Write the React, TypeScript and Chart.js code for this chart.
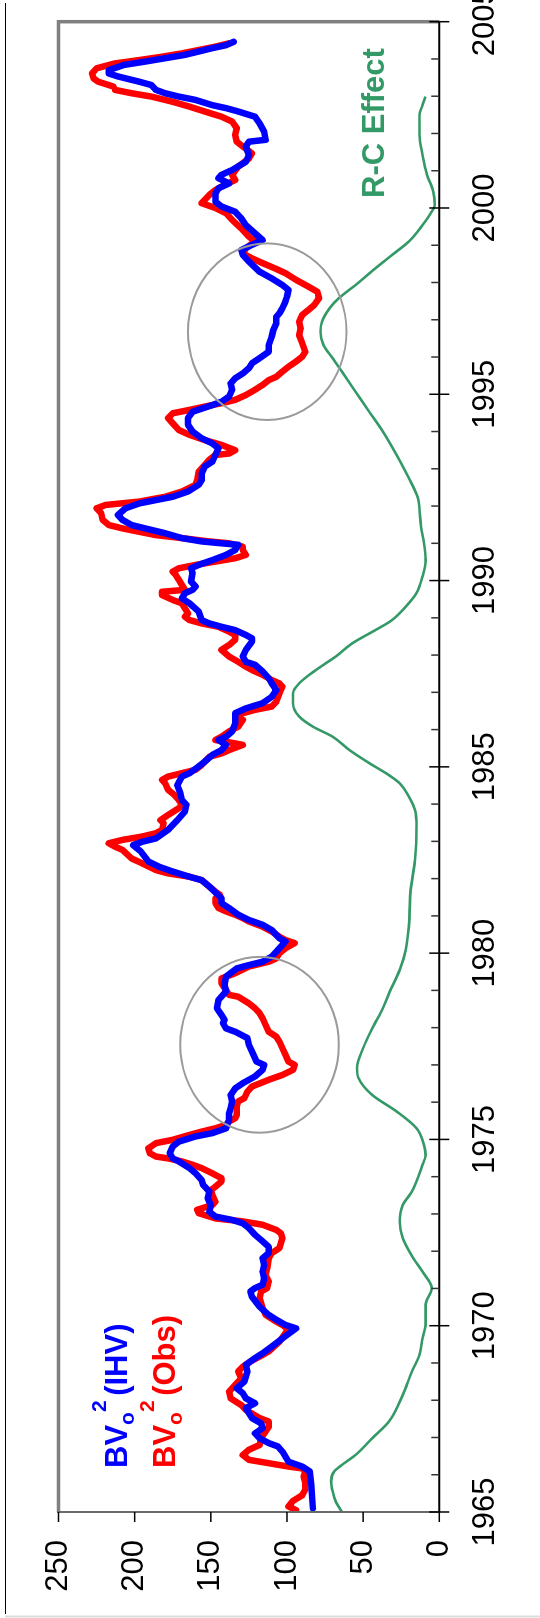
import React, { useEffect, useRef } from 'react';
import { Chart, registerables } from 'chart.js';

Chart.register(...registerables);

const FONT = '"Liberation Sans", Arial, Helvetica, sans-serif';
// The chart is laid out landscape and turned a quarter turn on the page.
const W = 1618;
const H = 540;

const yearMin = 1965;
const yearMax = 2005;
const valueMin = 0;
const valueMax = 250;

// BVo^2 derived from IHV
const ihvYears = [
  1965.1, 1965.73, 1966.09, 1966.22, 1966.35, 1966.62, 1966.76, 1966.85, 1966.98, 1967.11,
  1967.25, 1967.38, 1967.52, 1967.79, 1967.92, 1968.05, 1968.19, 1968.32, 1968.5, 1968.77,
  1968.95, 1969.13, 1969.26, 1969.44, 1969.66, 1969.93, 1970.02, 1970.16, 1970.29, 1970.51,
  1970.78, 1970.92, 1971.01, 1971.1, 1971.27, 1971.45, 1971.63, 1971.81, 1971.95, 1972.12,
  1972.3, 1972.44, 1972.62, 1972.75, 1972.84, 1972.93, 1973.06, 1973.24, 1973.42, 1973.6,
  1973.78, 1973.91, 1974.09, 1974.23, 1974.41, 1974.49, 1974.63, 1974.81, 1974.94, 1975.08,
  1975.17, 1975.3, 1975.43, 1975.52, 1975.7, 1975.84, 1976.02, 1976.19, 1976.37, 1976.51,
  1976.69, 1976.87, 1977.0, 1977.09, 1977.27, 1977.54, 1977.72, 1977.89, 1977.98, 1978.12,
  1978.21, 1978.34, 1978.52, 1978.74, 1978.97, 1979.15, 1979.37, 1979.59, 1979.68, 1979.77,
  1979.91, 1980.04, 1980.31, 1980.4, 1980.62, 1980.76, 1980.89, 1981.03, 1981.21, 1981.34,
  1981.47, 1981.79, 1981.96, 1982.05, 1982.19, 1982.32, 1982.46, 1982.73, 1982.9, 1982.99,
  1983.08, 1983.31, 1983.57, 1983.8, 1983.98, 1984.11, 1984.29, 1984.51, 1984.74, 1984.83,
  1985.01, 1985.14, 1985.32, 1985.45, 1985.59, 1985.72, 1985.81, 1985.95, 1986.17, 1986.44,
  1986.57, 1986.71, 1986.88, 1987.06, 1987.24, 1987.38, 1987.56, 1987.74, 1987.82, 1987.96,
  1988.14, 1988.36, 1988.45, 1988.54, 1988.67, 1988.76, 1988.85, 1988.94, 1989.17, 1989.39,
  1989.52, 1989.66, 1989.75, 1989.84, 1989.97, 1990.2, 1990.33, 1990.42, 1990.55, 1990.69,
  1990.82, 1990.96, 1991.0, 1991.05, 1991.14, 1991.27, 1991.4, 1991.49, 1991.63, 1991.76,
  1991.94, 1992.07, 1992.16, 1992.25, 1992.39, 1992.57, 1992.7, 1992.88, 1993.06, 1993.19,
  1993.37, 1993.55, 1993.68, 1993.82, 1994.0, 1994.18, 1994.36, 1994.53, 1994.71, 1994.8,
  1994.94, 1995.12, 1995.29, 1995.43, 1995.56, 1995.7, 1995.83, 1995.97, 1996.14, 1996.32,
  1996.55, 1996.72, 1996.9, 1997.08, 1997.17, 1997.31, 1997.49, 1997.62, 1997.8, 1997.93,
  1998.11, 1998.29, 1998.56, 1998.74, 1998.87, 1999.01, 1999.14, 1999.32, 1999.54, 1999.72,
  1999.9, 2000.04, 2000.17, 2000.39, 2000.53, 2000.66, 2000.8, 2000.89, 2001.02, 2001.24,
  2001.42, 2001.65, 2001.78, 2001.83, 2002.05, 2002.27, 2002.45, 2002.59, 2002.68, 2002.76,
  2002.9, 2002.99, 2003.08, 2003.17, 2003.3, 2003.39, 2003.44, 2003.53, 2003.61, 2003.7,
  2003.84, 2003.93, 2004.02, 2004.11, 2004.2, 2004.29, 2004.37, 2004.46,
];
const ihvValues = [
  83, 84, 85, 90, 99, 103, 106, 112, 118, 121,
  116, 117, 123, 127, 121, 127, 129, 133, 128, 126,
  127, 121, 116, 110, 103, 94, 101, 107, 112, 118,
  123, 124, 121, 116, 115, 116, 115, 116, 112, 112,
  117, 121, 125, 129, 136, 147, 151, 150, 152, 151,
  155, 156, 160, 164, 171, 175, 177, 175, 171, 160,
  149, 140, 139, 138, 138, 137, 136, 137, 134, 129,
  121, 116, 115, 120, 122, 125, 126, 134, 140, 142,
  141, 143, 146, 145, 140, 141, 140, 133, 125, 116,
  110, 107, 101, 105, 110, 116, 125, 132, 138, 143,
  143, 151, 156, 164, 175, 184, 191, 196, 201, 195,
  186, 178, 172, 167, 166, 169, 170, 172, 169, 164,
  158, 154, 149, 143, 140, 145, 140, 136, 134, 134,
  127, 116, 110, 107, 110, 112, 116, 121, 127, 129,
  127, 123, 123, 127, 134, 143, 151, 156, 158, 164,
  169, 167, 162, 160, 163, 162, 163, 158, 149, 140,
  134, 132, 143, 156, 169, 180, 193, 202, 208, 211,
  206, 197, 186, 175, 165, 158, 156, 156, 154, 149,
  147, 145, 149, 156, 162, 165, 165, 162, 149, 143,
  138, 136, 137, 134, 129, 125, 123, 118, 112, 112,
  110, 109, 107, 107, 105, 103, 101, 100, 99, 103,
  110, 118, 125, 129, 130, 123, 116, 121, 127, 130,
  134, 143, 147, 147, 145, 138, 145, 143, 136, 127,
  125, 127, 125, 114, 115, 118, 121, 132, 140, 149,
  160, 171, 180, 186, 189, 197, 202, 211, 217, 217,
  207, 193, 180, 167, 158, 149, 140, 135,
];

// BVo^2 from observations
const obsYears = [
  1965.05, 1965.15, 1965.3, 1965.45, 1965.6, 1965.8, 1965.95, 1966.09, 1966.17, 1966.22,
  1966.31, 1966.4, 1966.53, 1966.67, 1966.8, 1966.98, 1967.29, 1967.43, 1967.52, 1967.74,
  1967.87, 1968.05, 1968.23, 1968.41, 1968.59, 1968.77, 1968.9, 1969.04, 1969.17, 1969.31,
  1969.57, 1969.8, 1969.89, 1970.02, 1970.11, 1970.29, 1970.47, 1970.74, 1970.92, 1971.01,
  1971.18, 1971.36, 1971.54, 1971.81, 1971.95, 1972.08, 1972.35, 1972.48, 1972.57, 1972.71,
  1972.8, 1972.88, 1973.02, 1973.11, 1973.15, 1973.24, 1973.33, 1973.51, 1973.64, 1973.73,
  1973.87, 1973.96, 1974.09, 1974.23, 1974.32, 1974.41, 1974.49, 1974.54, 1974.63, 1974.76,
  1974.9, 1974.99, 1975.12, 1975.21, 1975.3, 1975.39, 1975.48, 1975.57, 1975.66, 1975.88,
  1976.02, 1976.11, 1976.28, 1976.42, 1976.6, 1976.73, 1976.87, 1977.0, 1977.09, 1977.27,
  1977.45, 1977.63, 1977.76, 1977.89, 1978.07, 1978.25, 1978.39, 1978.52, 1978.65, 1978.83,
  1978.88, 1979.01, 1979.19, 1979.32, 1979.46, 1979.64, 1979.77, 1979.86, 1980.0, 1980.13,
  1980.27, 1980.35, 1980.44, 1980.58, 1980.71, 1980.85, 1980.94, 1981.03, 1981.12, 1981.21,
  1981.34, 1981.47, 1981.56, 1981.65, 1981.96, 1982.05, 1982.14, 1982.23, 1982.41, 1982.54,
  1982.77, 1982.86, 1982.95, 1983.04, 1983.13, 1983.22, 1983.31, 1983.49, 1983.57, 1983.71,
  1983.89, 1983.98, 1984.11, 1984.25, 1984.38, 1984.56, 1984.65, 1984.74, 1984.83, 1984.92,
  1985.05, 1985.27, 1985.36, 1985.45, 1985.59, 1985.63, 1985.72, 1985.81, 1985.95, 1986.08,
  1986.26, 1986.35, 1986.44, 1986.53, 1986.62, 1986.75, 1986.97, 1987.15, 1987.24, 1987.33,
  1987.47, 1987.6, 1987.69, 1987.82, 1987.96, 1988.14, 1988.27, 1988.41, 1988.54, 1988.63,
  1988.76, 1988.85, 1988.94, 1989.03, 1989.12, 1989.39, 1989.48, 1989.61, 1989.7, 1989.75,
  1989.88, 1990.02, 1990.15, 1990.24, 1990.33, 1990.42, 1990.51, 1990.6, 1990.69, 1990.82,
  1990.91, 1991.0, 1991.05, 1991.14, 1991.22, 1991.31, 1991.4, 1991.49, 1991.63, 1991.81,
  1991.94, 1992.03, 1992.12, 1992.25, 1992.39, 1992.57, 1992.7, 1992.92, 1993.1, 1993.24,
  1993.37, 1993.41, 1993.5, 1993.64, 1993.77, 1993.91, 1994.04, 1994.22, 1994.36, 1994.49,
  1994.58, 1994.67, 1994.76, 1994.85, 1994.98, 1995.12, 1995.25, 1995.38, 1995.47, 1995.61,
  1995.74, 1995.88, 1996.01, 1996.14, 1996.37, 1996.59, 1996.77, 1996.95, 1997.13, 1997.26,
  1997.4, 1997.58, 1997.75, 1997.89, 1998.07, 1998.25, 1998.38, 1998.52, 1998.65, 1998.78,
  1998.92, 1999.1, 1999.23, 1999.45, 1999.68, 1999.86, 2000.0, 2000.13, 2000.35, 2000.48,
  2000.62, 2000.75, 2000.89, 2001.11, 2001.33, 2001.47, 2001.65, 2001.78, 2001.96, 2002.14,
  2002.32, 2002.45, 2002.59, 2002.72, 2002.85, 2002.99, 2003.08, 2003.17, 2003.26, 2003.3,
  2003.39, 2003.48, 2003.61, 2003.75, 2003.88, 2003.97, 2004.06, 2004.15, 2004.24, 2004.33,
  2004.42,
];
const obsValues = [
  94, 99, 96, 90, 88, 88, 89, 88, 90, 99,
  112, 125, 129, 125, 118, 117, 112, 112, 118, 127,
  130, 137, 138, 134, 130, 132, 129, 124, 118, 112,
  105, 101, 99, 103, 107, 114, 116, 118, 117, 113,
  112, 114, 113, 112, 110, 105, 103, 104, 107, 116,
  129, 147, 158, 159, 156, 149, 147, 149, 150, 147,
  143, 143, 149, 156, 162, 169, 178, 186, 190, 191,
  186, 175, 164, 156, 147, 140, 138, 134, 133, 133,
  132, 128, 126, 123, 112, 103, 96, 95, 99, 101,
  103, 105, 107, 112, 114, 116, 118, 121, 125, 132,
  138, 140, 143, 143, 134, 125, 112, 107, 105, 101,
  95, 101, 105, 110, 116, 125, 129, 134, 140, 145,
  147, 147, 144, 147, 156, 164, 178, 186, 195, 202,
  208, 213, 217, 208, 195, 186, 182, 181, 183, 178,
  171, 169, 171, 174, 178, 180, 182, 178, 169, 160,
  156, 151, 143, 138, 129, 134, 147, 143, 138, 132,
  129, 133, 129, 121, 110, 107, 105, 103, 105, 110,
  116, 123, 127, 132, 138, 143, 138, 134, 134, 138,
  145, 156, 164, 167, 165, 169, 175, 182, 182, 167,
  169, 171, 173, 175, 171, 160, 147, 134, 127, 129,
  129, 138, 151, 169, 186, 197, 208, 217, 221, 222,
  225, 219, 197, 180, 169, 160, 159, 158, 154, 151,
  147, 138, 134, 143, 154, 164, 171, 175, 178, 175,
  164, 154, 143, 134, 127, 121, 116, 112, 107, 103,
  99, 94, 90, 88, 90, 92, 91, 92, 90, 86,
  82, 79, 80, 86, 94, 101, 108, 116, 123, 129,
  127, 121, 125, 130, 136, 140, 147, 156, 151, 147,
  141, 134, 136, 132, 125, 123, 129, 133, 134, 133,
  136, 143, 154, 164, 175, 189, 202, 213, 214, 217,
  224, 227, 228, 225, 213, 197, 182, 169, 158, 147,
  138,
];

// R-C effect curve
const rcYears = [
  1965.01, 1965.28, 1965.55, 1965.82, 1966.09, 1966.26, 1966.53, 1966.98, 1967.43, 1968.14,
  1968.77, 1969.22, 1969.66, 1970.02, 1970.56, 1971.01, 1971.45, 1971.81, 1972.35, 1972.8,
  1973.24, 1973.6, 1974.32, 1974.58, 1974.85, 1975.3, 1975.75, 1976.19, 1976.64, 1976.91,
  1977.45, 1977.98, 1978.52, 1978.92, 1979.55, 1980.09, 1980.71, 1981.61, 1982.5, 1983.4,
  1983.84, 1984.2, 1984.56, 1984.83, 1985.1, 1985.45, 1985.81, 1986.08, 1986.35, 1986.71,
  1986.97, 1987.24, 1987.6, 1987.96, 1988.32, 1988.67, 1988.94, 1989.3, 1989.66, 1990.11,
  1990.55, 1991.0, 1991.45, 1991.9, 1992.21, 1992.75, 1993.37, 1994.0, 1994.53, 1995.07,
  1995.61, 1995.97, 1996.32, 1996.68, 1996.95, 1997.31, 1997.58, 1997.93, 1998.38, 1998.74,
  1999.1, 1999.54, 1999.9, 2000.08, 2000.44, 2000.89, 2001.42, 2001.96, 2002.5, 2002.76,
  2002.99,
];
const rcValues = [
  64, 68, 70, 71, 69, 64, 55, 44, 33, 24,
  18, 13, 11, 9, 9, 5, 11, 17, 24, 26,
  24, 18, 11, 9, 10, 15, 28, 44, 53, 54,
  50, 44, 37, 33, 26, 22, 20, 19, 16, 15,
  16, 20, 26, 35, 46, 59, 70, 83, 92, 96,
  96, 92, 81, 68, 57, 42, 31, 22, 15, 11,
  9, 10, 12, 13, 14, 20, 28, 37, 46, 55,
  64, 70, 76, 78, 77, 72, 66, 55, 42, 31,
  20, 11, 5, 3, 4, 8, 11, 13, 13, 11,
  9,
];

// Highlighted intervals (centre and half-extent in data units)
const ringYears = [1996.68, 1977.54];
const ringValues = [113, 118];
const ringYearRadius = [2.37, 2.36];
const ringValueRadius = [52, 52];

const valueTicks = [0, 50, 100, 150, 200, 250];

const IHV_COLOR = '#0000ff';
const OBS_COLOR = '#ff0000';
const RC_COLOR = '#339966';

function toPoints(xs: number[], ys: number[]) {
  return xs.map((x, i) => ({ x, y: ys[i] }));
}

function drawBvLabel(ctx: CanvasRenderingContext2D, x: number, baseline: number, color: string, tail: string) {
  const big = `bold 31px ${FONT}`;
  const small = `bold 21px ${FONT}`;
  ctx.fillStyle = color;
  ctx.textAlign = 'left';
  ctx.textBaseline = 'alphabetic';
  ctx.font = big;
  ctx.fillText('BV', x, baseline);
  x += ctx.measureText('BV').width;
  ctx.font = small;
  ctx.fillText('o', x, baseline + 7);
  x += ctx.measureText('o').width;
  ctx.fillText('2', x, baseline - 21);
  x += ctx.measureText('2').width;
  ctx.font = big;
  ctx.fillText(' ' + tail, x - 4, baseline);
}

const framePlugin = {
  id: 'frameAndNotes',
  afterDatasetsDraw(chart: any) {
    const { ctx, scales } = chart;
    const xs = scales.x;
    const ys = scales.y;
    ctx.save();
    ctx.strokeStyle = '#9a9a9a';
    ctx.lineWidth = 2;
    for (let i = 0; i < ringYears.length; i++) {
      const cx = xs.getPixelForValue(ringYears[i]);
      const cy = ys.getPixelForValue(ringValues[i]);
      const rx = Math.abs(xs.getPixelForValue(ringYears[i] + ringYearRadius[i]) - cx);
      const ry = Math.abs(ys.getPixelForValue(ringValues[i] + ringValueRadius[i]) - cy);
      ctx.beginPath();
      ctx.ellipse(cx, cy, rx, ry, 0, 0, Math.PI * 2);
      ctx.stroke();
    }
    ctx.restore();
  },
  afterDraw(chart: any) {
    const { ctx, chartArea, scales } = chart;
    const { left, right, top, bottom } = chartArea;
    const xs = scales.x;
    const ys = scales.y;
    ctx.save();
    ctx.lineCap = 'butt';

    // outer page frame
    ctx.strokeStyle = '#000';
    ctx.lineWidth = 1.2;
    ctx.beginPath();
    ctx.moveTo(4, 5.5);
    ctx.lineTo(W - 3, 5.5);
    ctx.stroke();
    ctx.strokeStyle = '#dddddd';
    ctx.lineWidth = 2;
    ctx.beginPath();
    ctx.moveTo(1.5, 5);
    ctx.lineTo(1.5, H);
    ctx.stroke();

    // plot area border
    ctx.strokeStyle = '#808080';
    ctx.lineWidth = 3.5;
    ctx.beginPath();
    ctx.moveTo(left, top);
    ctx.lineTo(right, top);
    ctx.lineTo(right, bottom);
    ctx.stroke();

    // value axis
    ctx.strokeStyle = '#6a6a6a';
    ctx.lineWidth = 2;
    ctx.beginPath();
    ctx.moveTo(left, top - 1.5);
    ctx.lineTo(left, bottom);
    ctx.stroke();
    ctx.strokeStyle = '#000';
    ctx.lineWidth = 1.5;
    for (const v of valueTicks) {
      const py = ys.getPixelForValue(v);
      ctx.beginPath();
      ctx.moveTo(left - 10, py);
      ctx.lineTo(left, py);
      ctx.stroke();
    }

    // year axis
    ctx.strokeStyle = '#000';
    ctx.lineWidth = 2;
    ctx.beginPath();
    ctx.moveTo(left, bottom);
    ctx.lineTo(right, bottom);
    ctx.stroke();
    for (let yr = yearMin; yr <= yearMax; yr++) {
      const px = xs.getPixelForValue(yr);
      const major = yr % 5 === 0;
      ctx.strokeStyle = major ? '#000' : '#333';
      ctx.lineWidth = 1.5;
      ctx.beginPath();
      ctx.moveTo(px, major ? bottom - 10 : bottom - 8);
      ctx.lineTo(px, major ? bottom + 10 : bottom);
      ctx.stroke();
    }

    // series labels
    drawBvLabel(ctx, 150, 127, IHV_COLOR, '(IHV)');
    drawBvLabel(ctx, 150, 174.5, OBS_COLOR, '(Obs)');
    ctx.fillStyle = RC_COLOR;
    ctx.font = `bold 31px ${FONT}`;
    ctx.textAlign = 'left';
    ctx.textBaseline = 'alphabetic';
    ctx.fillText('R-C Effect', 1420, 383.5);
    ctx.restore();
  },
};

export default function App() {
  const canvasRef = useRef<HTMLCanvasElement>(null);

  useEffect(() => {
    document.body.style.margin = '0';
    const canvas = canvasRef.current;
    if (!canvas) return;
    const chart = new Chart(canvas, {
      type: 'line',
      data: {
        datasets: [
          {
            label: 'BVo2 (IHV)',
            data: toPoints(ihvYears, ihvValues),
            borderColor: IHV_COLOR,
            backgroundColor: IHV_COLOR,
            borderWidth: 6.5,
            pointRadius: 0,
            tension: 0,
            borderJoinStyle: 'round',
            borderCapStyle: 'round',
            fill: false,
          },
          {
            label: 'BVo2 (Obs)',
            data: toPoints(obsYears, obsValues),
            borderColor: OBS_COLOR,
            backgroundColor: OBS_COLOR,
            borderWidth: 6.5,
            pointRadius: 0,
            tension: 0,
            borderJoinStyle: 'round',
            borderCapStyle: 'round',
            fill: false,
          },
          {
            label: 'R-C Effect',
            data: toPoints(rcYears, rcValues),
            borderColor: RC_COLOR,
            backgroundColor: RC_COLOR,
            borderWidth: 2.6,
            pointRadius: 0,
            cubicInterpolationMode: 'monotone',
            fill: false,
          },
        ],
      } as any,
      options: {
        responsive: false,
        maintainAspectRatio: false,
        animation: false,
        devicePixelRatio: 1,
        events: [],
        layout: { padding: { left: 0, right: W - 1596.3, top: 58.5, bottom: 0 } },
        plugins: { legend: { display: false }, tooltip: { enabled: false } },
        scales: {
          x: {
            type: 'linear',
            position: 'bottom',
            min: yearMin,
            max: yearMax,
            grid: { display: false, drawTicks: false },
            border: { display: false },
            ticks: {
              stepSize: 1,
              autoSkip: false,
              maxRotation: 0,
              minRotation: 0,
              padding: 28,
              color: '#000',
              font: { family: FONT, size: 31 },
              callback: (v: any) => {
                const n = Math.round(Number(v));
                return Math.abs(Number(v) - n) < 1e-6 && n % 5 === 0 ? String(n) : '';
              },
            },
            afterFit: (s: any) => {
              s.height = H - 439.3;
              s.paddingLeft = 0;
              s.paddingRight = 0;
            },
          },
          y: {
            type: 'linear',
            position: 'left',
            min: valueMin,
            max: valueMax,
            grid: { display: false, drawTicks: false },
            border: { display: false },
            ticks: {
              stepSize: 50,
              padding: 28,
              color: '#000',
              font: { family: FONT, size: 31 },
              callback: (v: any) => String(v),
            },
            afterFit: (s: any) => {
              s.width = 106;
              s.paddingTop = 0;
              s.paddingBottom = 0;
            },
          },
        },
      } as any,
      plugins: [framePlugin],
    });
    return () => chart.destroy();
  }, []);

  return (
    <div style={{ position: 'relative', width: H, height: W, overflow: 'hidden', background: '#fff' }}>
      <div
        style={{
          position: 'absolute',
          left: 0,
          top: 0,
          width: W,
          height: H,
          transformOrigin: '0 0',
          transform: `translateY(${W}px) rotate(-90deg)`,
        }}
      >
        <canvas ref={canvasRef} width={W} height={H} style={{ display: 'block', width: W, height: H }} />
      </div>
    </div>
  );
}
